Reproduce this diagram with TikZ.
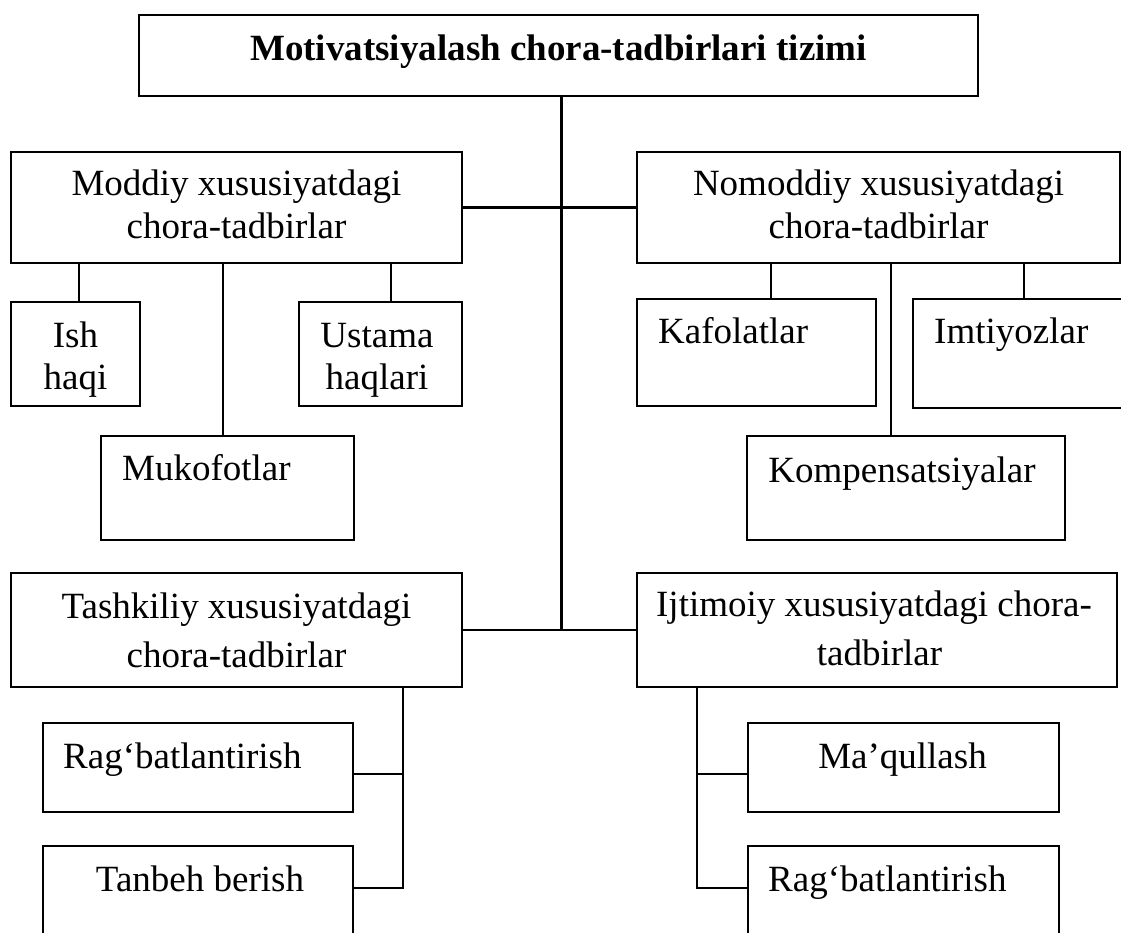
\documentclass[tikz,border=0pt]{standalone}
\usepackage{fontspec}
\setmainfont{Liberation Serif}
\usetikzlibrary{calc}

% box given by its corners (x1,y1) and (x2,y2), y counted downwards
\newcommand\orgbox[5]{%
  \node[box, minimum width={#4-#2}, minimum height={#5-#3}] (#1)
    at ({(#2+#4)/2},{(#3+#5)/2}) {};}
% vertical drop from a parent's bottom edge to a child's top edge
\newcommand\dropline[3]{%
  \coordinate (#1-top) at ($(#1.north)+(#3,0)$);
  \draw[conn] (#2.south -| #1-top) -- (#1-top);}

\begin{document}
\begin{tikzpicture}[x=1pt,y=-1pt,
  box/.style={draw, line width=2.2pt, rectangle, inner sep=0pt, outer sep=0pt},
  conn/.style={line width=2.2pt},
  txt/.style={inner sep=0pt, font=\fontsize{37pt}{43pt}\selectfont},
  ttl/.style={inner sep=0pt, font=\fontsize{37pt}{43pt}\selectfont\bfseries}]

\fill[white] (0,0) rectangle (1121,932);
\clip (0,0) rectangle (1121,932);

% ---- boxes ----
\orgbox{title}{139}{15}{978}{96}
\orgbox{moddiy}{11}{152}{462}{263}
\orgbox{nomoddiy}{637}{152}{1120}{263}
\orgbox{ish}{11}{302}{140}{406}
\orgbox{ustama}{299}{302}{462}{406}
\orgbox{mukofot}{101}{436}{354}{540}
\orgbox{kafolat}{637}{299}{876}{406}
\orgbox{imtiyoz}{913}{299}{1140}{408}
\orgbox{kompens}{747}{436}{1065}{540}
\orgbox{tashkiliy}{11}{573}{462}{687}
\orgbox{ijtimoiy}{637}{573}{1117}{687}
\orgbox{ragA}{43}{723}{353}{812}
\orgbox{tanbeh}{43}{846}{353}{934}
\orgbox{maqul}{748}{723}{1059}{812}
\orgbox{ragB}{748}{846}{1059}{934}

% ---- texts ----
\node[ttl, anchor=base] (titleT) at (558.5,60) {Motivatsiyalash chora-tadbirlari tizimi};
\node[txt, anchor=base] (moddiyA) at (236.5,195) {Moddiy xususiyatdagi};
\node[txt, anchor=base] (moddiyB) at (236.5,238) {chora-tadbirlar};
\node[txt, anchor=base] (nomoddiyA) at (878.5,195) {Nomoddiy xususiyatdagi};
\node[txt, anchor=base] (nomoddiyB) at (878.5,238) {chora-tadbirlar};
\node[txt, anchor=base] (ishA) at (75.5,347) {Ish};
\node[txt, anchor=base] (ishB) at (75.5,389) {haqi};
\node[txt, anchor=base] (ustamaA) at (377,347) {Ustama};
\node[txt, anchor=base] (ustamaB) at (377,389) {haqlari};
\node[txt, anchor=base west] (mukofotT) at (122,480) {Mukofotlar};
\node[txt, anchor=base west] (kafolatT) at (658,343) {Kafolatlar};
\node[txt, anchor=base west] (imtiyozT) at (934,343) {Imtiyozlar};
\node[txt, anchor=base] (kompensT) at (902,482) {Kompensatsiyalar};
\node[txt, anchor=base] (tashkiliyA) at (236.5,618) {Tashkiliy xususiyatdagi};
\node[txt, anchor=base] (tashkiliyB) at (236.5,667) {chora-tadbirlar};
\node[txt, anchor=base] (ijtimoiyA) at (874,616) {Ijtimoiy xususiyatdagi chora-};
\node[txt, anchor=base] (ijtimoiyB) at (879.5,665) {tadbirlar};
\node[txt, anchor=base west] (ragAT) at (63,768) {Rag‘batlantirish};
\node[txt, anchor=base] (tanbehT) at (200,891) {Tanbeh berish};
\node[txt, anchor=base] (maqulT) at (902.5,768) {Ma’qullash};
\node[txt, anchor=base west] (ragBT) at (768,891) {Rag‘batlantirish};

% ---- trunk and main branches ----
\coordinate (trunkTop) at ($(title.south)+(3,0)$);
\draw[conn] (trunkTop) -- (trunkTop |- tashkiliy.east);
\draw[conn] (moddiy.east) -- (nomoddiy.west);
\draw[conn] (tashkiliy.east) -- (ijtimoiy.west);

% ---- material measures ----
\dropline{ish}{moddiy}{3.5}
\dropline{mukofot}{moddiy}{-4.5}
\dropline{ustama}{moddiy}{10.5}

% ---- non-material measures ----
\dropline{kafolat}{nomoddiy}{14.5}
\dropline{kompens}{nomoddiy}{-15}
\dropline{imtiyoz}{nomoddiy}{-2.5}

% ---- organisational measures ----
\coordinate (tkv) at ($(tashkiliy.south)+(166.5,0)$);
\coordinate (ragAc) at ($(ragA.east)+(0,6.5)$);
\coordinate (tanbehc) at ($(tanbeh.east)+(0,-2)$);
\draw[conn] (tkv) |- (tanbehc);
\draw[conn] (ragAc) -- (ragAc -| tkv);

% ---- social measures ----
\coordinate (ijv) at ($(ijtimoiy.south)+(-180,0)$);
\coordinate (maqulc) at ($(maqul.west)+(0,6.5)$);
\coordinate (ragBc) at ($(ragB.west)+(0,-2)$);
\draw[conn] (ijv) |- (ragBc);
\draw[conn] (maqulc) -- (maqulc -| ijv);

\end{tikzpicture}
\end{document}
